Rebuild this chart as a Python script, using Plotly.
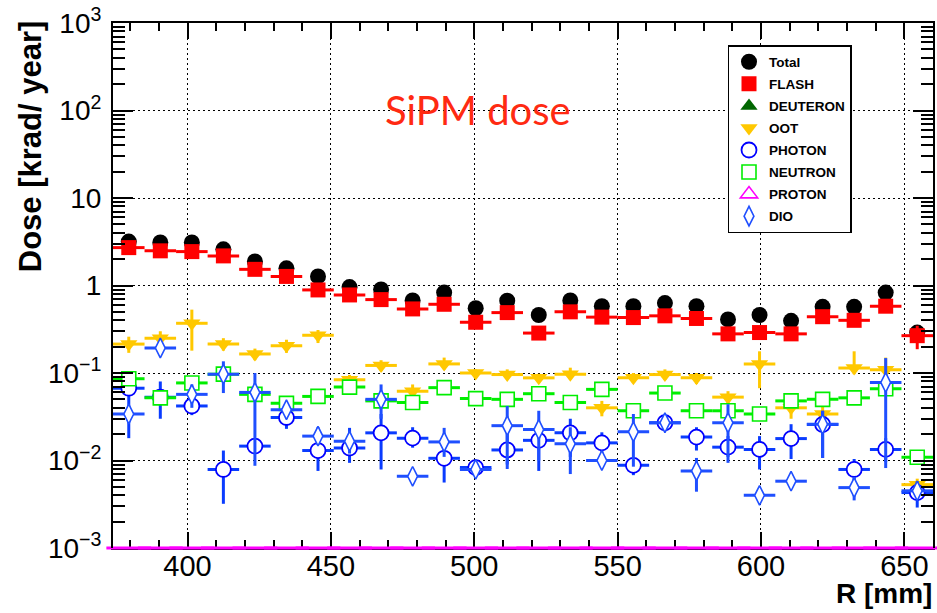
import plotly.graph_objects as go

# ---------------- data ----------------
r_mm = [379.5, 390.5, 401.5, 412.5, 423.5, 434.5, 445.5, 456.5, 467.5, 478.5,
        489.5, 500.5, 511.5, 522.5, 533.5, 544.5, 555.5, 566.5, 577.5, 588.5,
        599.5, 610.5, 621.5, 632.5, 643.5, 654.5]
bin_half_width = [5.5] * 26

total = [3.18, 3.1, 3.1, 2.59, 1.88, 1.57, 1.27, 0.96, 0.9, 0.675,
         0.83, 0.55, 0.67, 0.46, 0.675, 0.58, 0.58, 0.63, 0.58, 0.41,
         0.46, 0.395, 0.57, 0.57, 0.83, 0.29]

flash = [2.71, 2.49, 2.44, 2.18, 1.53, 1.27, 0.89, 0.78, 0.69, 0.54,
         0.61, 0.38, 0.49, 0.286, 0.50, 0.435, 0.43, 0.45, 0.42, 0.28,
         0.29, 0.28, 0.44, 0.40, 0.58, 0.267]
flash_err = [0.2, 0.15, 0.15, 0.12, 0.08, 0.06, 0.05, 0.04, 0.03, 0.03,
             0.03, 0.03, 0.03, 0.02, 0.03, 0.03, 0.03, 0.04, 0.03, 0.03,
             0.03, 0.02, 0.03, 0.03, 0.04, 0.08]

deuteron = [0.0] * 26
proton = [0.0] * 26

oot = [0.214, 0.25, 0.37, 0.214, 0.165, 0.205, 0.27, 0.084, 0.122, 0.062,
       0.127, 0.10, 0.096, 0.088, 0.097, 0.040, 0.088, 0.096, 0.088, 0.053,
       0.127, 0.040, 0.034, 0.114, 0.109, 0.0053]
oot_lo = [0.17, 0.21, 0.18, 0.18, 0.14, 0.17, 0.22, 0.074, 0.105, 0.052,
          0.11, 0.09, 0.085, 0.08, 0.085, 0.032, 0.078, 0.083, 0.075, 0.045,
          0.067, 0.03, 0.024, 0.097, 0.096, 0.0045]
oot_hi = [0.26, 0.30, 0.53, 0.25, 0.19, 0.24, 0.31, 0.095, 0.14, 0.074,
          0.15, 0.11, 0.11, 0.098, 0.115, 0.048, 0.10, 0.11, 0.10, 0.062,
          0.177, 0.048, 0.046, 0.177, 0.15, 0.0062]

photon = [0.067, 0.053, 0.042, 0.0079, 0.0146, 0.031, 0.013, 0.0139, 0.0207, 0.018,
          0.0106, 0.0083, 0.0132, 0.017, 0.0207, 0.0159, 0.0088, 0.027, 0.0185, 0.0142,
          0.0134, 0.0178, 0.0258, 0.0079, 0.0134, 0.0043]
photon_lo = [0.018, 0.03, 0.033, 0.0032, 0.012, 0.023, 0.0076, 0.0094, 0.0079, 0.014,
             0.0056, 0.0068, 0.009, 0.0076, 0.011, 0.012, 0.0068, 0.023, 0.013, 0.011,
             0.0079, 0.0104, 0.0107, 0.006, 0.0096, 0.0029]
photon_hi = [0.10, 0.08, 0.055, 0.013, 0.018, 0.041, 0.018, 0.0236, 0.034, 0.024,
             0.016, 0.0098, 0.02, 0.026, 0.03, 0.021, 0.011, 0.032, 0.024, 0.019,
             0.019, 0.026, 0.037, 0.0104, 0.018, 0.0058]

neutron = [0.086, 0.052, 0.077, 0.097, 0.057, 0.045, 0.054, 0.069, 0.048, 0.046,
           0.068, 0.051, 0.050, 0.058, 0.046, 0.065, 0.037, 0.059, 0.037, 0.037,
           0.034, 0.048, 0.050, 0.052, 0.066, 0.0109]
neutron_err = [0.006, 0.005, 0.006, 0.007, 0.004, 0.004, 0.004, 0.005, 0.004, 0.004,
               0.005, 0.004, 0.004, 0.004, 0.004, 0.005, 0.003, 0.005, 0.003, 0.003,
               0.003, 0.004, 0.004, 0.004, 0.006, 0.001]

dio = [0.034, 0.193, 0.057, 0.097, 0.060, 0.038, 0.019, 0.0166, 0.050, 0.0066,
       0.0163, 0.0079, 0.025, 0.0226, 0.0155, 0.010, 0.0213, 0.027, 0.0076, 0.027,
       0.0040, 0.0058, 0.026, 0.0049, 0.078, 0.0045]
dio_lo = [0.029, 0.16, 0.04, 0.059, 0.0087, 0.03, 0.015, 0.012, 0.03, 0.0066,
          0.011, 0.0072, 0.008, 0.01, 0.007, 0.009, 0.0085, 0.024, 0.0044, 0.0094,
          0.004, 0.0058, 0.0107, 0.0035, 0.0082, 0.0045]
dio_hi = [0.04, 0.23, 0.074, 0.136, 0.10, 0.046, 0.024, 0.022, 0.074, 0.0066,
          0.0236, 0.0087, 0.042, 0.037, 0.024, 0.011, 0.034, 0.03, 0.0107, 0.044,
          0.004, 0.0058, 0.037, 0.0065, 0.148, 0.0045]

y_tick_vals = [1e-3, 1e-2, 1e-1, 1, 10, 100, 1000]
y_tick_text = ["10<sup>\u22123</sup>", "10<sup>\u22122</sup>", "10<sup>\u22121</sup>",
               "1", "10", "10<sup>2</sup>", "10<sup>3</sup>"]
x_tick_vals = [400, 450, 500, 550, 600, 650]

# ---------------- figure ----------------
FONT = "Liberation Sans, Arial, Helvetica, sans-serif"
Y_FLOOR = 1e-3
W, H = 937, 613
ML, MR, MT, MB = 113, 2, 23, 65
PW, PH = W - ML - MR, H - MT - MB


def px_x(p):
    return (p - ML) / PW


def px_y(p):
    return (H - MB - p) / PH


def up(v, hi):
    return [h - x for x, h in zip(v, hi)]


def dn(v, lo):
    return [x - l for x, l in zip(v, lo)]


fig = go.Figure()

fig.add_trace(go.Scatter(
    x=r_mm, y=total, mode="markers", name="Total", legendgroup="a",
    marker=dict(symbol="circle", size=16, color="black"),
))

fig.add_trace(go.Scatter(
    x=r_mm, y=flash, mode="markers", name="FLASH", legendgroup="b",
    marker=dict(symbol="square", size=15, color="#ff0000"),
    error_x=dict(type="data", array=bin_half_width, color="#ff0000", thickness=3, width=0),
    error_y=dict(type="data", array=flash_err, color="#ff0000", thickness=3, width=0),
))

fig.add_trace(go.Scatter(
    x=r_mm, y=[v if v > 0 else None for v in deuteron], mode="markers",
    name="DEUTERON", legendgroup="c",
    marker=dict(symbol="triangle-up", size=15, color="#006600"),
))

fig.add_trace(go.Scatter(
    x=r_mm, y=oot, mode="markers", name="OOT", legendgroup="d",
    marker=dict(symbol="triangle-down", size=15, color="#ffc800"),
    error_x=dict(type="data", array=bin_half_width, color="#ffc800", thickness=3, width=0),
    error_y=dict(type="data", array=up(oot, oot_hi), arrayminus=dn(oot, oot_lo),
                 color="#ffc800", thickness=3, width=0),
))

fig.add_trace(go.Scatter(
    x=r_mm, y=photon, mode="markers", name="PHOTON", legendgroup="e",
    marker=dict(symbol="circle", size=15, color="white", line=dict(color="#0000ff", width=1.8)),
    error_x=dict(type="data", array=bin_half_width, color="#0a3cff", thickness=3, width=0),
    error_y=dict(type="data", array=up(photon, photon_hi), arrayminus=dn(photon, photon_lo),
                 color="#0a3cff", thickness=3, width=0),
))

fig.add_trace(go.Scatter(
    x=r_mm, y=neutron, mode="markers", name="NEUTRON", legendgroup="f",
    marker=dict(symbol="square", size=14, color="white", line=dict(color="#00ee00", width=1.6)),
    error_x=dict(type="data", array=bin_half_width, color="#00ee00", thickness=3, width=0),
    error_y=dict(type="data", array=neutron_err, color="#00ee00", thickness=3, width=0),
))

# proton: all bins are zero -> histogram drawn flat on the lower edge of the log axis
fig.add_trace(go.Scatter(
    x=r_mm, y=[max(v, Y_FLOOR) for v in proton], mode="markers", showlegend=False,
    cliponaxis=False, hoverinfo="skip",
    marker=dict(symbol="line-ew", size=32, color="#ff00ff",
                line=dict(color="#ff00ff", width=3)),
))
fig.add_trace(go.Scatter(
    x=r_mm, y=[v if v > 0 else None for v in proton], mode="markers",
    name="PROTON", legendgroup="g",
    marker=dict(symbol="triangle-up-open", size=15, color="#ff00ff", line=dict(width=1.6)),
))

fig.add_trace(go.Scatter(
    x=r_mm, y=dio, mode="markers", name="DIO", legendgroup="h",
    marker=dict(symbol="diamond-tall", size=14, color="white", line=dict(color="#1f4fff", width=1.6)),
    error_x=dict(type="data", array=bin_half_width, color="#1f4fff", thickness=3, width=0),
    error_y=dict(type="data", array=up(dio, dio_hi), arrayminus=dn(dio, dio_lo),
                 color="#1f4fff", thickness=3, width=0),
))

fig.update_layout(
    width=W, height=H,
    margin=dict(l=ML, r=MR, t=MT, b=MB),
    paper_bgcolor="white", plot_bgcolor="white",
    font=dict(family=FONT, color="black"),
    showlegend=True,
    legend=dict(
        x=px_x(729), y=px_y(45), xanchor="left", yanchor="top",
        bgcolor="white", bordercolor="black", borderwidth=1.5,
        font=dict(family=FONT, size=13.5, weight="bold", color="black"),
        tracegroupgap=1.5, entrywidth=128, entrywidthmode="pixels",
    ),
    xaxis=dict(
        range=[374, 660], tickvals=x_tick_vals,
        ticks="inside", ticklen=16, tickwidth=1.5, tickcolor="black",
        showline=True, linecolor="black", linewidth=2, mirror="ticks",
        showgrid=True, gridcolor="black", gridwidth=1, griddash="2px,3px",
        zeroline=False, layer="below traces",
        tickfont=dict(family=FONT, size=29, color="black"),
        ticklabelstandoff=-9,
        minor=dict(ticks="inside", ticklen=8, tickwidth=1.5, tickcolor="black", dtick=10, showgrid=False),
    ),
    yaxis=dict(
        type="log", range=[-3, 3], tickvals=y_tick_vals, ticktext=y_tick_text,
        ticks="inside", ticklen=20, tickwidth=1.5, tickcolor="black",
        showline=True, linecolor="black", linewidth=2, mirror="ticks",
        showgrid=True, gridcolor="black", gridwidth=1, griddash="2px,3px",
        zeroline=False,
        tickfont=dict(family=FONT, size=28, color="black"),
        ticklabelstandoff=4,
        minor=dict(ticks="inside", ticklen=12, tickwidth=1.5, tickcolor="black", dtick="D1", showgrid=False),
    ),
    annotations=[
        dict(text="SiPM dose", x=px_x(479), y=px_y(110), xref="paper", yref="paper",
             xanchor="center", yanchor="middle", showarrow=False,
             font=dict(family="Lato, Open Sans, sans-serif", size=40, color="#ff2a12")),
        dict(text="<b>R [mm]</b>", x=px_x(935), y=px_y(577), xref="paper", yref="paper",
             xanchor="right", yanchor="top", showarrow=False, borderpad=0,
             font=dict(family=FONT, size=28, color="black")),
        dict(text="<b>Dose [krad/ year]</b>", x=px_x(30), y=px_y(18), xref="paper", yref="paper",
             xanchor="center", yanchor="top", textangle=-90, showarrow=False,
             font=dict(family=FONT, size=31, color="black")),
    ],
)

fig.write_html("out.html")
